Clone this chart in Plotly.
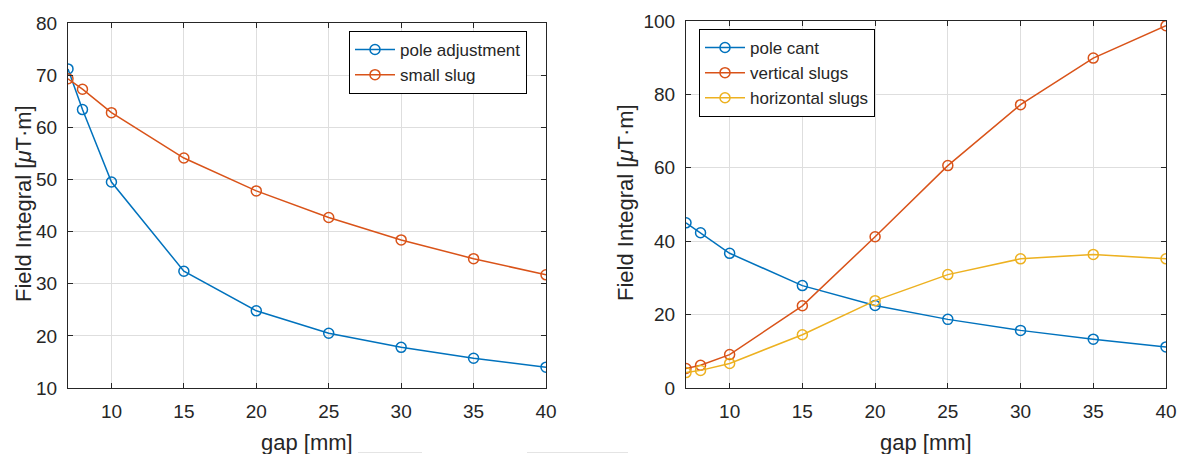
import plotly.graph_objects as go

# gap values [mm]
gap = [7, 8, 10, 15, 20, 25, 30, 35, 40]

# left panel: field integral [uT*m]
pole_adjustment = [71.2, 63.4, 49.5, 32.4, 24.8, 20.5, 17.8, 15.7, 14.0]
small_slug = [69.3, 67.3, 62.8, 54.1, 47.8, 42.7, 38.4, 34.8, 31.7]

# right panel: field integral [uT*m]
pole_cant = [45.0, 42.3, 36.7, 27.9, 22.5, 18.7, 15.7, 13.3, 11.2]
vertical_slugs = [5.3, 6.2, 9.1, 22.4, 41.2, 60.6, 77.2, 89.9, 98.7]
horizontal_slugs = [4.2, 4.8, 6.7, 14.5, 23.8, 30.9, 35.2, 36.4, 35.2]

x_ticks = [10, 15, 20, 25, 30, 35, 40]
x_label = "gap [mm]"
y_label = "Field Integral [<i>μ</i>T·m]"

BLUE = "#0072BD"
ORANGE = "#D95319"
YELLOW = "#EDB120"
AX = "#262626"
GRID = "#DEDEDE"
FONT = "Liberation Sans, Arial, sans-serif"

W, H = 1179, 454

fig = go.Figure()


def add_series(x, y, name, color, xa, ya, legend):
    fig.add_trace(go.Scatter(
        x=x, y=y, name=name, mode="lines+markers",
        line=dict(color=color, width=1.5),
        marker=dict(symbol="circle-open", size=10, color=color,
                    line=dict(width=1.5, color=color)),
        xaxis=xa, yaxis=ya, legend=legend,
    ))


add_series(gap, pole_adjustment, "pole adjustment", BLUE, "x", "y", "legend")
add_series(gap, small_slug, "small slug", ORANGE, "x", "y", "legend")
add_series(gap, pole_cant, "pole cant", BLUE, "x2", "y2", "legend2")
add_series(gap, vertical_slugs, "vertical slugs", ORANGE, "x2", "y2", "legend2")
add_series(gap, horizontal_slugs, "horizontal slugs", YELLOW, "x2", "y2", "legend2")

axis_common = dict(
    automargin=False,
    showline=True, linecolor=AX, linewidth=1, mirror="allticks",
    ticks="inside", ticklen=5, tickcolor=AX, tickwidth=1,
    showgrid=True, gridcolor=GRID, gridwidth=1, zeroline=False,
    tickfont=dict(family=FONT, size=19, color=AX),
    ticklabelstandoff=6,
)

title_font = dict(family=FONT, size=22, color=AX)
legend_font = dict(family=FONT, size=17, color=AX)

# plot-area edges in pixels
L1, R1, T1, B1 = 68, 546, 23, 388
L2, R2, T2, B2 = 686, 1166, 21, 388

fig.update_layout(
    width=W, height=H,
    margin=dict(l=0, r=0, t=0, b=0),
    paper_bgcolor="white", plot_bgcolor="white",
    font=dict(family=FONT, color=AX),
    showlegend=True,
    xaxis=dict(domain=[L1 / W, R1 / W], range=[7, 40], tickvals=x_ticks,
               anchor="y", **axis_common),
    yaxis=dict(domain=[1 - B1 / H, 1 - T1 / H], range=[10, 80], dtick=10,
               anchor="x", **axis_common),
    xaxis2=dict(domain=[L2 / W, R2 / W], range=[7, 40], tickvals=x_ticks,
                anchor="y2", **axis_common),
    yaxis2=dict(domain=[1 - B2 / H, 1 - T2 / H], range=[0, 100], dtick=20,
                anchor="x2", **axis_common),
    legend=dict(x=349 / W, y=1 - 31 / H, xanchor="left", yanchor="top",
                bgcolor="white", bordercolor="#000000", borderwidth=1,
                font=legend_font, tracegroupgap=0, itemwidth=40),
    legend2=dict(x=699 / W, y=1 - 29 / H, xanchor="left", yanchor="top",
                 bgcolor="white", bordercolor="#000000", borderwidth=1,
                 font=legend_font, tracegroupgap=0, itemwidth=40),
)

# axis titles
for cx in [(L1 + R1) / 2, (L2 + R2) / 2]:
    fig.add_annotation(text=x_label, x=cx / W, y=1 - 442 / H,
                       xref="paper", yref="paper", xanchor="center",
                       yanchor="middle", showarrow=False, font=title_font)
for cx, top, bot in [(24, T1, B1), (625, T2, B2)]:
    fig.add_annotation(text=y_label, x=cx / W, y=1 - ((top + bot) / 2 - 1.5) / H,
                       xref="paper", yref="paper", xanchor="center",
                       yanchor="middle", textangle=-90, showarrow=False,
                       font=title_font)

# faint rule segments along the bottom edge
for x0, x1 in [(358, 422), (527, 628)]:
    fig.add_shape(type="line", xref="paper", yref="paper",
                  x0=x0 / W, x1=x1 / W, y0=1 - 452.5 / H, y1=1 - 452.5 / H,
                  line=dict(color="#E4E4E4", width=1))

fig.write_html("out.html")
